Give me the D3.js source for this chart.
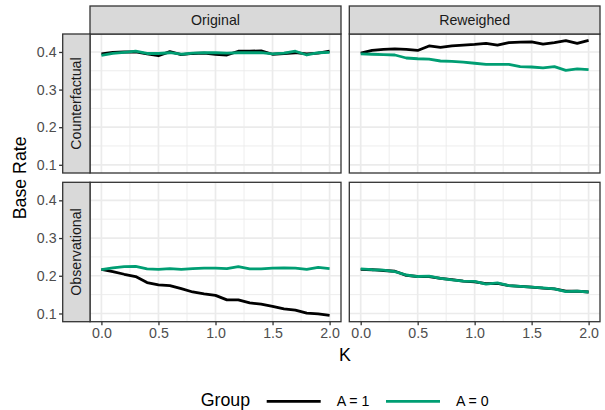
<!DOCTYPE html>
<html><head><meta charset="utf-8">
<script src="https://cdn.jsdelivr.net/npm/d3@7"></script>
<style>body{margin:0;background:#fff}svg{display:block}text{font-family:"Liberation Sans",Arial,sans-serif}</style>
</head><body><svg id="c" width="605" height="410"></svg>
<script>
const kValues = [0,0.1,0.2,0.3,0.4,0.5,0.6,0.7,0.8,0.9,1.0,1.1,1.2,1.3,1.4,1.5,1.6,1.7,1.8,1.9,2.0];
const colTypes = ["Original","Reweighed"];
const rowTypes = ["Counterfactual","Observational"];
const groups = ["A = 1","A = 0"];
const xTicks = [0,0.5,1,1.5,2];
const yTicks = [0.1,0.2,0.3,0.4];

const origCfA1 = [0.395,0.399,0.400,0.400,0.395,0.390,0.401,0.393,0.396,0.397,0.394,0.392,0.402,0.402,0.403,0.394,0.396,0.398,0.395,0.397,0.402];
const origCfA0 = [0.391,0.396,0.399,0.402,0.396,0.396,0.398,0.394,0.397,0.398,0.398,0.397,0.398,0.398,0.398,0.395,0.397,0.402,0.392,0.398,0.399];
const rewCfA1 = [0.397,0.404,0.407,0.408,0.407,0.404,0.416,0.412,0.416,0.418,0.420,0.423,0.418,0.425,0.426,0.427,0.421,0.425,0.430,0.423,0.431];
const rewCfA0 = [0.395,0.394,0.393,0.392,0.384,0.382,0.381,0.376,0.375,0.373,0.370,0.367,0.367,0.367,0.361,0.360,0.358,0.361,0.351,0.355,0.353];
const origObsA1 = [0.217,0.211,0.204,0.198,0.182,0.176,0.174,0.166,0.157,0.152,0.148,0.136,0.136,0.128,0.125,0.119,0.112,0.109,0.101,0.099,0.095];
const origObsA0 = [0.216,0.221,0.224,0.225,0.218,0.217,0.219,0.217,0.219,0.220,0.220,0.219,0.224,0.218,0.218,0.220,0.221,0.220,0.217,0.222,0.219];
const rewObsA1 = [0.217,0.216,0.214,0.212,0.201,0.198,0.198,0.193,0.190,0.186,0.184,0.179,0.180,0.174,0.172,0.170,0.167,0.165,0.159,0.159,0.157];
const rewObsA0 = [0.218,0.216,0.215,0.211,0.202,0.198,0.199,0.193,0.189,0.186,0.185,0.178,0.181,0.174,0.172,0.170,0.168,0.165,0.158,0.159,0.157];

const series = {
  "Counterfactual|Original": [origCfA1, origCfA0],
  "Counterfactual|Reweighed": [rewCfA1, rewCfA0],
  "Observational|Original": [origObsA1, origObsA0],
  "Observational|Reweighed": [rewObsA1, rewObsA0]
};
const colors = ["#000000","#009E73"];

const svg = d3.select("#c");
const panelX = [[90,341],[349.3,600]];
const panelY = [[34,173],[182.3,321.7]];
const stripTop = 6, stripLeft = 62.7;
const fs = 14.2, fsTitle = 17.8;

const allVals = [].concat(...Object.values(series).flat());
const ext = d3.extent(allVals);
const pad = (ext[1]-ext[0])*0.05;
const yDomain = [ext[0]-pad, ext[1]+pad];
const xDomain = [-0.1, 2.1];
const xMinor = [0.25,0.75,1.25,1.75];
const yMinor = [0.15,0.25,0.35];

rowTypes.forEach((r, ri) => {
  colTypes.forEach((c, ci) => {
    const [x0,x1] = panelX[ci], [y0,y1] = panelY[ri];
    const x = d3.scaleLinear().domain(xDomain).range([x0,x1]);
    const y = d3.scaleLinear().domain(yDomain).range([y1,y0]);
    const g = svg.append("g");
    g.append("rect").attr("x",x0).attr("y",y0).attr("width",x1-x0).attr("height",y1-y0).attr("fill","#fff");
    g.selectAll(".mx").data(xMinor).enter().append("line")
      .attr("x1",d=>x(d)).attr("x2",d=>x(d)).attr("y1",y0).attr("y2",y1).attr("stroke","#EBEBEB").attr("stroke-width",0.9);
    g.selectAll(".my").data(yMinor).enter().append("line")
      .attr("y1",d=>y(d)).attr("y2",d=>y(d)).attr("x1",x0).attr("x2",x1).attr("stroke","#EBEBEB").attr("stroke-width",0.9);
    g.selectAll(".gx").data(xTicks).enter().append("line")
      .attr("x1",d=>x(d)).attr("x2",d=>x(d)).attr("y1",y0).attr("y2",y1).attr("stroke","#EBEBEB").attr("stroke-width",1.7);
    g.selectAll(".gy").data(yTicks).enter().append("line")
      .attr("y1",d=>y(d)).attr("y2",d=>y(d)).attr("x1",x0).attr("x2",x1).attr("stroke","#EBEBEB").attr("stroke-width",1.7);
    const line = d3.line().x((d,i)=>x(kValues[i])).y(d=>y(d));
    series[r+"|"+c].forEach((vals, gi) => {
      g.append("path").datum(vals).attr("d",line).attr("fill","none")
        .attr("stroke",colors[gi]).attr("stroke-width",2.8).attr("stroke-linejoin","round");
    });
    g.append("rect").attr("x",x0).attr("y",y0).attr("width",x1-x0).attr("height",y1-y0)
      .attr("fill","none").attr("stroke","#333333").attr("stroke-width",1.3);

    if (ri === 0) {
      svg.append("rect").attr("x",x0).attr("y",stripTop).attr("width",x1-x0).attr("height",y0-stripTop)
        .attr("fill","#D9D9D9").attr("stroke","#333333").attr("stroke-width",1.3);
      svg.append("text").attr("x",(x0+x1)/2).attr("y",(stripTop+y0)/2).attr("dy","0.36em")
        .attr("text-anchor","middle").attr("font-size",fs).attr("fill","#1A1A1A").text(c);
    }
    if (ci === 0) {
      svg.append("rect").attr("x",stripLeft).attr("y",y0).attr("width",x0-stripLeft).attr("height",y1-y0)
        .attr("fill","#D9D9D9").attr("stroke","#333333").attr("stroke-width",1.3);
      svg.append("text").attr("transform",`translate(${(stripLeft+x0)/2},${(y0+y1)/2}) rotate(-90)`)
        .attr("dy","0.36em").attr("text-anchor","middle").attr("font-size",fs).attr("fill","#1A1A1A").text(r);
      const ya = svg.append("g").attr("transform",`translate(${stripLeft},0)`)
        .call(d3.axisLeft(y).tickValues(yTicks).tickFormat(d3.format(".1f")).tickSize(3.6).tickPadding(2.5));
      ya.select(".domain").remove();
      ya.selectAll("line").attr("stroke","#333333").attr("stroke-width",1.3);
      ya.selectAll("text").attr("font-size",fs).attr("fill","#4D4D4D").attr("font-family",'"Liberation Sans",Arial,sans-serif');
    }
    if (ri === 1) {
      const xa = svg.append("g").attr("transform",`translate(0,${y1})`)
        .call(d3.axisBottom(x).tickValues(xTicks).tickFormat(d3.format(".1f")).tickSize(3.6).tickPadding(2.5));
      xa.select(".domain").remove();
      xa.selectAll("line").attr("stroke","#333333").attr("stroke-width",1.3);
      xa.selectAll("text").attr("font-size",fs).attr("fill","#4D4D4D").attr("font-family",'"Liberation Sans",Arial,sans-serif');
    }
  });
});

svg.append("text").attr("x",(panelX[0][0]+panelX[1][1])/2).attr("y",360.5).attr("text-anchor","middle")
  .attr("font-size",fsTitle).attr("fill","#000").text("K");
svg.append("text").attr("transform",`translate(26,${(panelY[0][0]+panelY[1][1])/2}) rotate(-90)`)
  .attr("text-anchor","middle").attr("font-size",fsTitle).attr("fill","#000").text("Base Rate");

const leg = svg.append("g");
leg.append("text").attr("x",200.7).attr("y",405.5).attr("font-size",fsTitle).attr("fill","#000").text("Group");
const keyX = [266.7, 386];
groups.forEach((gname, i) => {
  leg.append("line").attr("x1",keyX[i]).attr("x2",keyX[i]+54).attr("y1",401.3).attr("y2",401.3)
    .attr("stroke",colors[i]).attr("stroke-width",2.8);
  leg.append("text").attr("x",keyX[i]+70).attr("y",406).attr("font-size",fs).attr("fill","#000").text(gname);
});
</script></body></html>
